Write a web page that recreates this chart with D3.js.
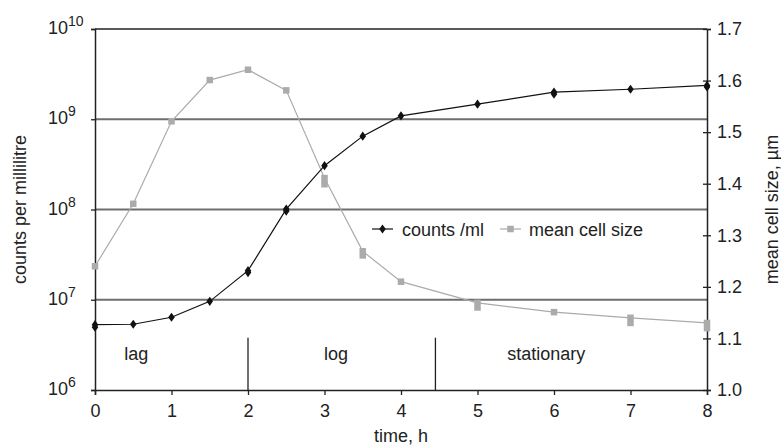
<!DOCTYPE html>
<html>
<head>
<meta charset="utf-8">
<script src="https://cdn.jsdelivr.net/npm/d3@7"></script>
<style>
  html, body { margin: 0; padding: 0; background: #fff; }
  svg { display: block; font-family: "Liberation Sans", Arial, Helvetica, sans-serif; }
</style>
</head>
<body>
<svg id="chart" width="781" height="446"></svg>
<script>
// ---- data ----
const times = [0, 0.5, 1, 1.5, 2, 2.5, 3, 3.5, 4, 5, 6, 7, 8];
const counts = [5.3e6, 5.35e6, 6.4e6, 9.6e6, 2.1e7, 1.01e8, 3.06e8, 6.5e8, 1.09e9, 1.47e9, 2.0e9, 2.15e9, 2.37e9];
const countsRepeat = [4.95e6, null, null, null, 2.0e7, 9.6e7, null, null, null, null, 1.9e9, null, 2.28e9];
const cellSize = [1.240, 1.361, 1.521, 1.601, 1.621, 1.581, 1.411, 1.269, 1.210, 1.169, 1.151, 1.140, 1.130];
const cellSizeRepeat = [null, null, null, null, null, null, 1.399, 1.261, null, 1.160, null, 1.130, 1.120];
const xTicks = [0, 1, 2, 3, 4, 5, 6, 7, 8];
const countExponents = [6, 7, 8, 9, 10];
const gridExponents = [7, 8, 9];
const sizeTicks = [1.0, 1.1, 1.2, 1.3, 1.4, 1.5, 1.6, 1.7];
const phaseNames = ["lag", "log", "stationary"];
const phaseBoundaries = [2, 4.45];
const seriesNames = ["counts /ml", "mean cell size"];

// ---- layout ----
const svg = d3.select("#chart");
const L = 95, R = 707, T = 29, B = 390;
const x = d3.scaleLinear().domain([0, 8]).range([L, R]);
const y = d3.scaleLog().domain([1e6, 1e10]).range([B, T]);
const y2 = d3.scaleLinear().domain([1.0, 1.7]).range([B, T]);
const FS = 18;
const grey = "#ababab";

// gridlines
svg.append("g").selectAll("line").data(gridExponents).join("line")
  .attr("x1", L).attr("x2", R)
  .attr("y1", d => y(Math.pow(10, d))).attr("y2", d => y(Math.pow(10, d)))
  .attr("stroke", "#6e6e6e").attr("stroke-width", 1.8);
// top border
svg.append("line").attr("x1", L).attr("x2", R).attr("y1", y(1e10)).attr("y2", y(1e10))
  .attr("stroke", "#222").attr("stroke-width", 1.5);

// left axis
const leftAxis = svg.append("g").attr("transform", `translate(${L},0)`)
  .call(d3.axisLeft(y).tickValues(countExponents.map(e => Math.pow(10, e))).tickSize(4).tickFormat(""));
leftAxis.select(".domain").attr("stroke", "#222").attr("stroke-width", 1.5);
leftAxis.selectAll(".tick line").attr("stroke", "#222").attr("stroke-width", 1.3);
const ll = svg.append("g").selectAll("text").data(countExponents).join("text")
  .attr("x", 48).attr("y", d => y(Math.pow(10, d)) + 5)
  .attr("font-size", FS).attr("fill", "#222");
ll.append("tspan").text("10");
ll.append("tspan").attr("font-size", 14).attr("dy", -8).text(d => d);

// right axis
const rightAxis = svg.append("g").attr("transform", `translate(${R},0)`)
  .call(d3.axisRight(y2).tickValues(sizeTicks).tickSize(4).tickPadding(6).tickFormat(d3.format(".1f")));
rightAxis.select(".domain").attr("stroke", "#222").attr("stroke-width", 1.5);
rightAxis.selectAll(".tick line").attr("x1", -4).attr("stroke", "#222").attr("stroke-width", 1.3);
rightAxis.selectAll(".tick text").attr("font-size", FS).attr("fill", "#222")
  .attr("font-family", "Liberation Sans, Arial, sans-serif");

// bottom axis
const bottomAxis = svg.append("g").attr("transform", `translate(0,${B})`)
  .call(d3.axisBottom(x).tickValues(xTicks).tickSize(5).tickPadding(9).tickFormat(d3.format("d")));
bottomAxis.select(".domain").attr("stroke", "#222").attr("stroke-width", 1.5);
bottomAxis.selectAll(".tick line").attr("stroke", "#222").attr("stroke-width", 1.3);
bottomAxis.selectAll(".tick text").attr("font-size", FS).attr("fill", "#222")
  .attr("font-family", "Liberation Sans, Arial, sans-serif");

// phase separators & labels
svg.append("g").selectAll("line").data(phaseBoundaries).join("line")
  .attr("x1", d => x(d)).attr("x2", d => x(d))
  .attr("y1", y(3.8e6)).attr("y2", B)
  .attr("stroke", "#222").attr("stroke-width", 1.3);
const phaseLabelAt = [0.54, 3.15, 5.9];
svg.append("g").selectAll("text").data(phaseNames).join("text")
  .attr("x", (d, i) => x(phaseLabelAt[i])).attr("y", 360)
  .attr("text-anchor", "middle").attr("font-size", FS).attr("fill", "#222")
  .text(d => d);

// mean cell size series
const sizeData = times.map((t, i) => ({ t, v: cellSize[i], r: cellSizeRepeat[i] }));
svg.append("path").datum(sizeData)
  .attr("d", d3.line().x(d => x(d.t)).y(d => y2(d.v)))
  .attr("fill", "none").attr("stroke", grey).attr("stroke-width", 1.2);
const sq = 6.5;
svg.append("g").selectAll("rect").data(sizeData).join("rect")
  .attr("x", d => x(d.t) - sq / 2)
  .attr("y", d => y2(d.r != null ? Math.max(d.v, d.r) : d.v) - sq / 2)
  .attr("width", sq)
  .attr("height", d => (d.r != null ? Math.abs(y2(d.r) - y2(d.v)) : 0) + sq)
  .attr("fill", grey);

// counts series
const countData = times.map((t, i) => ({ t, v: counts[i], r: countsRepeat[i] }));
svg.append("path").datum(countData)
  .attr("d", d3.line().x(d => x(d.t)).y(d => y(d.v)))
  .attr("fill", "none").attr("stroke", "#111").attr("stroke-width", 1.2);
const diamond = d3.symbol().type(d3.symbolDiamond).size(24);
const countMarks = [];
countData.forEach(d => { countMarks.push({ t: d.t, v: d.v }); if (d.r != null) countMarks.push({ t: d.t, v: d.r }); });
svg.append("g").selectAll("path").data(countMarks).join("path")
  .attr("d", diamond)
  .attr("transform", d => `translate(${x(d.t)},${y(d.v)}) scale(1.25,1)`)
  .attr("fill", "#111");

// legend
const lg = svg.append("g");
lg.append("line").attr("x1", 372).attr("x2", 393).attr("y1", 229).attr("y2", 229).attr("stroke", "#111").attr("stroke-width", 1.2);
lg.append("path").attr("d", diamond).attr("transform", "translate(382.5,229) scale(1.25,1)").attr("fill", "#111");
lg.append("text").attr("x", 402).attr("y", 236).attr("font-size", FS).attr("fill", "#222").text(seriesNames[0]);
lg.append("line").attr("x1", 500).attr("x2", 521).attr("y1", 229).attr("y2", 229).attr("stroke", grey).attr("stroke-width", 1.2);
lg.append("rect").attr("x", 510.5 - 3.25).attr("y", 229 - 3.25).attr("width", 6.5).attr("height", 6.5).attr("fill", grey);
lg.append("text").attr("x", 529).attr("y", 236).attr("font-size", FS).attr("fill", "#222").text(seriesNames[1]);

// axis titles
svg.append("text").attr("transform", `translate(26,${(T + B) / 2}) rotate(-90)`)
  .attr("text-anchor", "middle").attr("font-size", FS).attr("fill", "#222").text("counts per millilitre");
svg.append("text").attr("transform", `translate(778,${(T + B) / 2}) rotate(-90)`)
  .attr("text-anchor", "middle").attr("font-size", FS).attr("fill", "#222").text("mean cell size, µm");
svg.append("text").attr("x", (L + R) / 2).attr("y", 442)
  .attr("text-anchor", "middle").attr("font-size", FS).attr("fill", "#222").text("time, h");
</script>
</body>
</html>
